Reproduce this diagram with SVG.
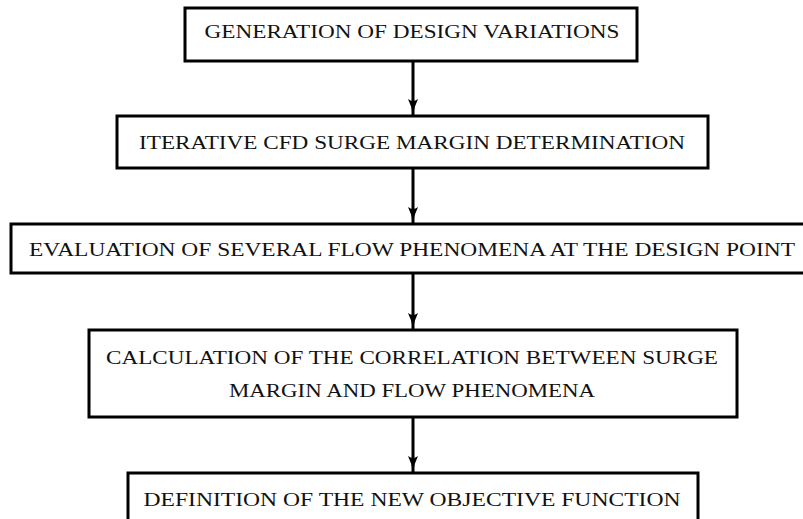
<svg xmlns="http://www.w3.org/2000/svg" width="803" height="519" viewBox="0 0 803 519">
  <defs>
    <style>
      .box { fill: #ffffff; stroke: #000000; stroke-width: 3; }
      .lbl { font-family: "Liberation Serif", "DejaVu Serif", serif; font-size: 18px; fill: #111111; text-anchor: middle; }
      .conn { stroke: #000000; stroke-width: 3; fill: none; }
    </style>
    <marker id="arr" viewBox="0 0 16 10" refX="16" refY="5" markerWidth="16" markerHeight="10" markerUnits="userSpaceOnUse" orient="auto">
      <path d="M0,0 Q8,4 16,5 Q8,6 0,10 Q4,5 0,0 Z" fill="#000000"/>
    </marker>
  </defs>
  <rect width="803" height="519" fill="#ffffff"/>
  <g id="connectors">
    <line class="conn" x1="413" y1="61" x2="413" y2="115" marker-end="url(#arr)"/>
    <line class="conn" x1="413" y1="168" x2="413" y2="223" marker-end="url(#arr)"/>
    <line class="conn" x1="413" y1="273" x2="413" y2="329" marker-end="url(#arr)"/>
    <line class="conn" x1="413" y1="417" x2="413" y2="472" marker-end="url(#arr)"/>
  </g>
  <g id="n1">
    <rect class="box" x="185" y="8" width="452" height="53"/>
    <text class="lbl" x="412" y="38" textLength="415" lengthAdjust="spacingAndGlyphs">GENERATION OF DESIGN VARIATIONS</text>
  </g>
  <g id="n2">
    <rect class="box" x="117" y="116" width="591" height="52"/>
    <text class="lbl" x="412" y="149" textLength="546" lengthAdjust="spacingAndGlyphs">ITERATIVE CFD SURGE MARGIN DETERMINATION</text>
  </g>
  <g id="n3">
    <rect class="box" x="11" y="224" width="802" height="49"/>
    <text class="lbl" x="412" y="256" textLength="766" lengthAdjust="spacingAndGlyphs">EVALUATION OF SEVERAL FLOW PHENOMENA AT THE DESIGN POINT</text>
  </g>
  <g id="n4">
    <rect class="box" x="89" y="330" width="648" height="87"/>
    <text class="lbl" x="412" y="364" textLength="612" lengthAdjust="spacingAndGlyphs">CALCULATION OF THE CORRELATION BETWEEN SURGE</text>
    <text class="lbl" x="412" y="397" textLength="366" lengthAdjust="spacingAndGlyphs">MARGIN AND FLOW PHENOMENA</text>
  </g>
  <g id="n5">
    <rect class="box" x="128" y="473" width="570" height="60"/>
    <text class="lbl" x="412" y="506" textLength="537" lengthAdjust="spacingAndGlyphs">DEFINITION OF THE NEW OBJECTIVE FUNCTION</text>
  </g>
</svg>
